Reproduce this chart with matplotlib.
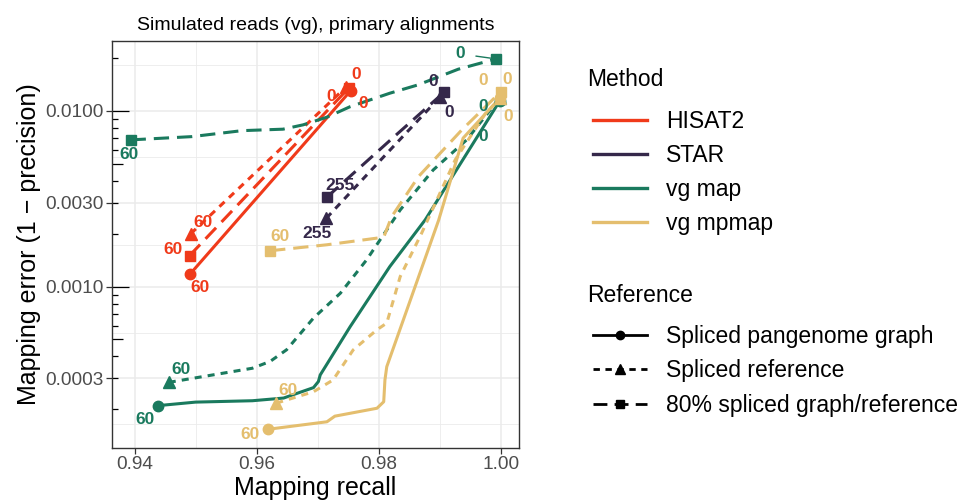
import numpy as np
import matplotlib
matplotlib.use('Agg')
import matplotlib.pyplot as plt
from matplotlib.lines import Line2D
from matplotlib.ticker import FixedLocator, NullFormatter

plt.rcParams['font.family'] = ['Liberation Sans', 'DejaVu Sans']

# --- data (recall, error) per method / reference ---
hisat2_graph_recall = [0.9491, 0.9754]
hisat2_graph_error = [0.00118, 0.01305]
hisat2_ref_recall = [0.9492, 0.9746]
hisat2_ref_error = [0.00200, 0.01364]
hisat2_mix_recall = [0.9490, 0.9751]
hisat2_mix_error = [0.00150, 0.01352]

star_ref_recall = [0.9714, 0.9818, 0.9900]
star_ref_error = [0.00245, 0.00597, 0.01197]
star_mix_recall = [0.9715, 0.9818, 0.9907]
star_mix_error = [0.00323, 0.00678, 0.01278]

vgmap_graph_recall = [0.9438, 0.9500, 0.9593, 0.9644, 0.9693, 0.9701, 0.9704,
                      0.9753, 0.9818, 0.9876, 0.9998]
vgmap_graph_error = [0.000210, 0.000220, 0.000224, 0.000232, 0.000266, 0.000288,
                     0.000314, 0.000591, 0.00130, 0.00240, 0.01140]
vgmap_ref_recall = [0.9456, 0.9593, 0.9622, 0.9649, 0.9693, 0.9737, 0.9780,
                    0.9835, 0.9889, 0.9944, 0.9998]
vgmap_ref_error = [0.000285, 0.000343, 0.000375, 0.000437, 0.000662, 0.000917,
                   0.00142, 0.00273, 0.00461, 0.00685, 0.01185]
vgmap_mix_recall = [0.93935, 0.9494, 0.9576, 0.9643, 0.9676, 0.9715, 0.9753,
                    0.9818, 0.9864, 0.9930, 0.9992]
vgmap_mix_error = [0.00684, 0.00714, 0.00772, 0.00787, 0.00833, 0.00921, 0.01057,
                   0.01261, 0.01406, 0.01727, 0.01977]

mpmap_graph_recall = [0.9618, 0.9715, 0.9728, 0.9797, 0.9808, 0.9810, 0.9813,
                      0.9898, 0.9938, 0.9998]
mpmap_graph_error = [0.000154, 0.000170, 0.000183, 0.000203, 0.000221, 0.000294,
                     0.000350, 0.00239, 0.00700, 0.01181]
mpmap_ref_recall = [0.9632, 0.9693, 0.9725, 0.9758, 0.9797, 0.9813, 0.9835,
                    0.9870, 0.9925, 0.9974, 0.9999]
mpmap_ref_error = [0.000217, 0.000252, 0.000294, 0.000436, 0.000568, 0.000620,
                   0.00114, 0.00201, 0.00526, 0.00960, 0.01181]
mpmap_mix_recall = [0.9622, 0.9715, 0.9808, 0.9821, 0.9865, 0.9936, 1.0000]
mpmap_mix_error = [0.00160, 0.00173, 0.00191, 0.00250, 0.00423, 0.00780, 0.01288]

methods = ['HISAT2', 'STAR', 'vg map', 'vg mpmap']
references = ['Spliced pangenome graph', 'Spliced reference',
              '80% spliced graph/reference']

# (method, reference, recall, error, start label, end label)
curves = [
    ('HISAT2', 'Spliced pangenome graph', hisat2_graph_recall, hisat2_graph_error, '60', '0'),
    ('HISAT2', 'Spliced reference', hisat2_ref_recall, hisat2_ref_error, '60', '0'),
    ('HISAT2', '80% spliced graph/reference', hisat2_mix_recall, hisat2_mix_error, '60', '0'),
    ('STAR', 'Spliced reference', star_ref_recall, star_ref_error, '255', '0'),
    ('STAR', '80% spliced graph/reference', star_mix_recall, star_mix_error, '255', '0'),
    ('vg map', 'Spliced pangenome graph', vgmap_graph_recall, vgmap_graph_error, '60', '0'),
    ('vg map', 'Spliced reference', vgmap_ref_recall, vgmap_ref_error, '60', '0'),
    ('vg map', '80% spliced graph/reference', vgmap_mix_recall, vgmap_mix_error, '60', '0'),
    ('vg mpmap', 'Spliced pangenome graph', mpmap_graph_recall, mpmap_graph_error, '60', '0'),
    ('vg mpmap', 'Spliced reference', mpmap_ref_recall, mpmap_ref_error, '60', '0'),
    ('vg mpmap', '80% spliced graph/reference', mpmap_mix_recall, mpmap_mix_error, '60', '0'),
]

# --- styling ---
colors = {'HISAT2': '#F03A1A', 'STAR': '#35284A', 'vg map': '#1A7A5E',
          'vg mpmap': '#E4BE6E'}
LW = 2.2
styles = {
    'Spliced pangenome graph': dict(linestyle='-', marker='o', ms=7.5),
    'Spliced reference': dict(linestyle=(0, (2.3, 2.0)), marker='^', ms=8.5),
    '80% spliced graph/reference': dict(linestyle=(0, (5.0, 2.6)), marker='s', ms=7.5),
}

# label offsets in pixels (dx right, dy down) for start / end labels
label_offsets = {
    ('HISAT2', 'Spliced pangenome graph'): ((10, 14), (12, 13)),
    ('HISAT2', 'Spliced reference'): ((12, -11), (10, -13)),
    ('HISAT2', '80% spliced graph/reference'): ((-17, -6), (-18, 9)),
    ('STAR', 'Spliced reference'): ((-9, 15), (9, 15)),
    ('STAR', '80% spliced graph/reference'): ((13, -12), (-11, -11)),
    ('vg map', 'Spliced pangenome graph'): ((-13, 14), (-17, 36)),
    ('vg map', 'Spliced reference'): ((12, -13), (-17, 9)),
    ('vg map', '80% spliced graph/reference'): ((-2, 15), (-36, -5)),
    ('vg mpmap', 'Spliced pangenome graph'): ((-18, 5), (8, 18)),
    ('vg mpmap', 'Spliced reference'): ((12, -13), (7, -19)),
    ('vg mpmap', '80% spliced graph/reference'): ((10, -14), (-18, -11)),
}
leader_labels = {('vg map', '80% spliced graph/reference')}

fig = plt.figure(figsize=(9.63, 5.03), dpi=100)
ax = fig.add_axes([0.1163, 0.1099, 0.4226, 0.8092])

for method, ref, rec, err, lab_start, lab_end in curves:
    c = colors[method]
    st = styles[ref]
    ax.plot(rec, err, color=c, lw=LW, linestyle=st['linestyle'], zorder=3)
    ax.plot([rec[0], rec[-1]], [err[0], err[-1]], linestyle='none',
            marker=st['marker'], ms=st['ms'], color=c, zorder=4)
    (dx0, dy0), (dx1, dy1) = label_offsets[(method, ref)]
    ax.annotate(lab_start, (rec[0], err[0]), xytext=(dx0, -dy0),
                textcoords='offset pixels', ha='center', va='center',
                color=c, fontsize=12.5, fontweight='bold', zorder=5)
    arrow = None
    if (method, ref) in leader_labels:
        arrow = dict(arrowstyle='-', color=c, lw=1.0, shrinkA=6, shrinkB=4)
    ax.annotate(lab_end, (rec[-1], err[-1]), xytext=(dx1, -dy1),
                textcoords='offset pixels', ha='center', va='center',
                color=c, fontsize=12.5, fontweight='bold', zorder=5,
                arrowprops=arrow)

# --- axes ---
ax.set_yscale('log')
ax.set_xlim(0.9363, 1.00295)
ax.set_ylim(0.000121, 0.0251)

xticks = [0.94, 0.96, 0.98, 1.00]
yticks = [0.0003, 0.001, 0.003, 0.01]
ytick_labels = ['0.0003', '0.0010', '0.0030', '0.0100']
ax.xaxis.set_major_locator(FixedLocator(xticks))
ax.set_xticklabels(['0.94', '0.96', '0.98', '1.00'])
ax.yaxis.set_major_locator(FixedLocator(yticks))
ax.set_yticklabels(ytick_labels)

# minor grid at midpoints (as ggplot does)
ax.xaxis.set_minor_locator(FixedLocator([0.95, 0.97, 0.99]))
logy = np.log10(yticks)
mids = list((logy[:-1] + logy[1:]) / 2)
mids = [logy[0] - (logy[1] - logy[0]) / 2] + mids + [logy[-1] + (logy[-1] - logy[-2]) / 2]
ax.yaxis.set_minor_locator(FixedLocator(10 ** np.array(mids)))
ax.yaxis.set_minor_formatter(NullFormatter())
ax.xaxis.set_minor_formatter(NullFormatter())

ax.grid(which='major', color='#EBEBEB', lw=1.1, zorder=0)
ax.grid(which='minor', color='#EBEBEB', lw=0.6, zorder=0)
ax.set_axisbelow(True)
for sp in ax.spines.values():
    sp.set_color('#333333')
    sp.set_linewidth(1.0)
ax.tick_params(which='major', length=4, width=0.9, color='#333333',
               labelsize=13.7, labelcolor='#4D4D4D', pad=2)
ax.tick_params(which='minor', length=0)

# log ticks inside the panel on the left
ytrans = ax.get_yaxis_transform()
for k in range(-4, -1):
    for m in range(1, 10):
        v = m * 10.0 ** k
        if not (0.000121 < v < 0.0251):
            continue
        ln = 0.042 if m == 1 else (0.028 if m == 5 else 0.015)
        ax.plot([0, ln], [v, v], color='black', lw=0.9, transform=ytrans,
                solid_capstyle='butt', zorder=2, clip_on=False)

ax.set_xlabel('Mapping recall', fontsize=18, labelpad=2)
ax.set_ylabel('Mapping error (1 \u2212 precision)', fontsize=18, labelpad=3)
ax.set_title('Simulated reads (vg), primary alignments', fontsize=14, pad=8)

# --- legends (titles drawn separately so keys sit indented like ggplot) ---
fig.text(587 / 963, 1 - 80 / 503, 'Method', fontsize=16.5, va='center', ha='left')
method_handles = [Line2D([], [], color=colors[m], lw=2.4) for m in methods]
fig.legend(method_handles, methods, loc='upper left',
           bbox_to_anchor=(0.6063, 0.799), frameon=False, fontsize=16.5,
           handlelength=2.35, handletextpad=0.85, labelspacing=0.47,
           borderaxespad=0)

fig.text(587 / 963, 1 - 295 / 503, 'Reference', fontsize=16.5, va='center', ha='left')
ref_handles = [Line2D([], [], color='black', lw=2.0, linestyle=styles[r]['linestyle'],
                      marker=styles[r]['marker'], ms=styles[r]['ms'] - 1.5)
               for r in references]
fig.legend(ref_handles, references, loc='upper left',
           bbox_to_anchor=(0.6063, 0.373), frameon=False, fontsize=16.5,
           handlelength=2.35, handletextpad=0.85, labelspacing=0.52,
           borderaxespad=0, numpoints=1)

fig.savefig('out.png', dpi=100)
